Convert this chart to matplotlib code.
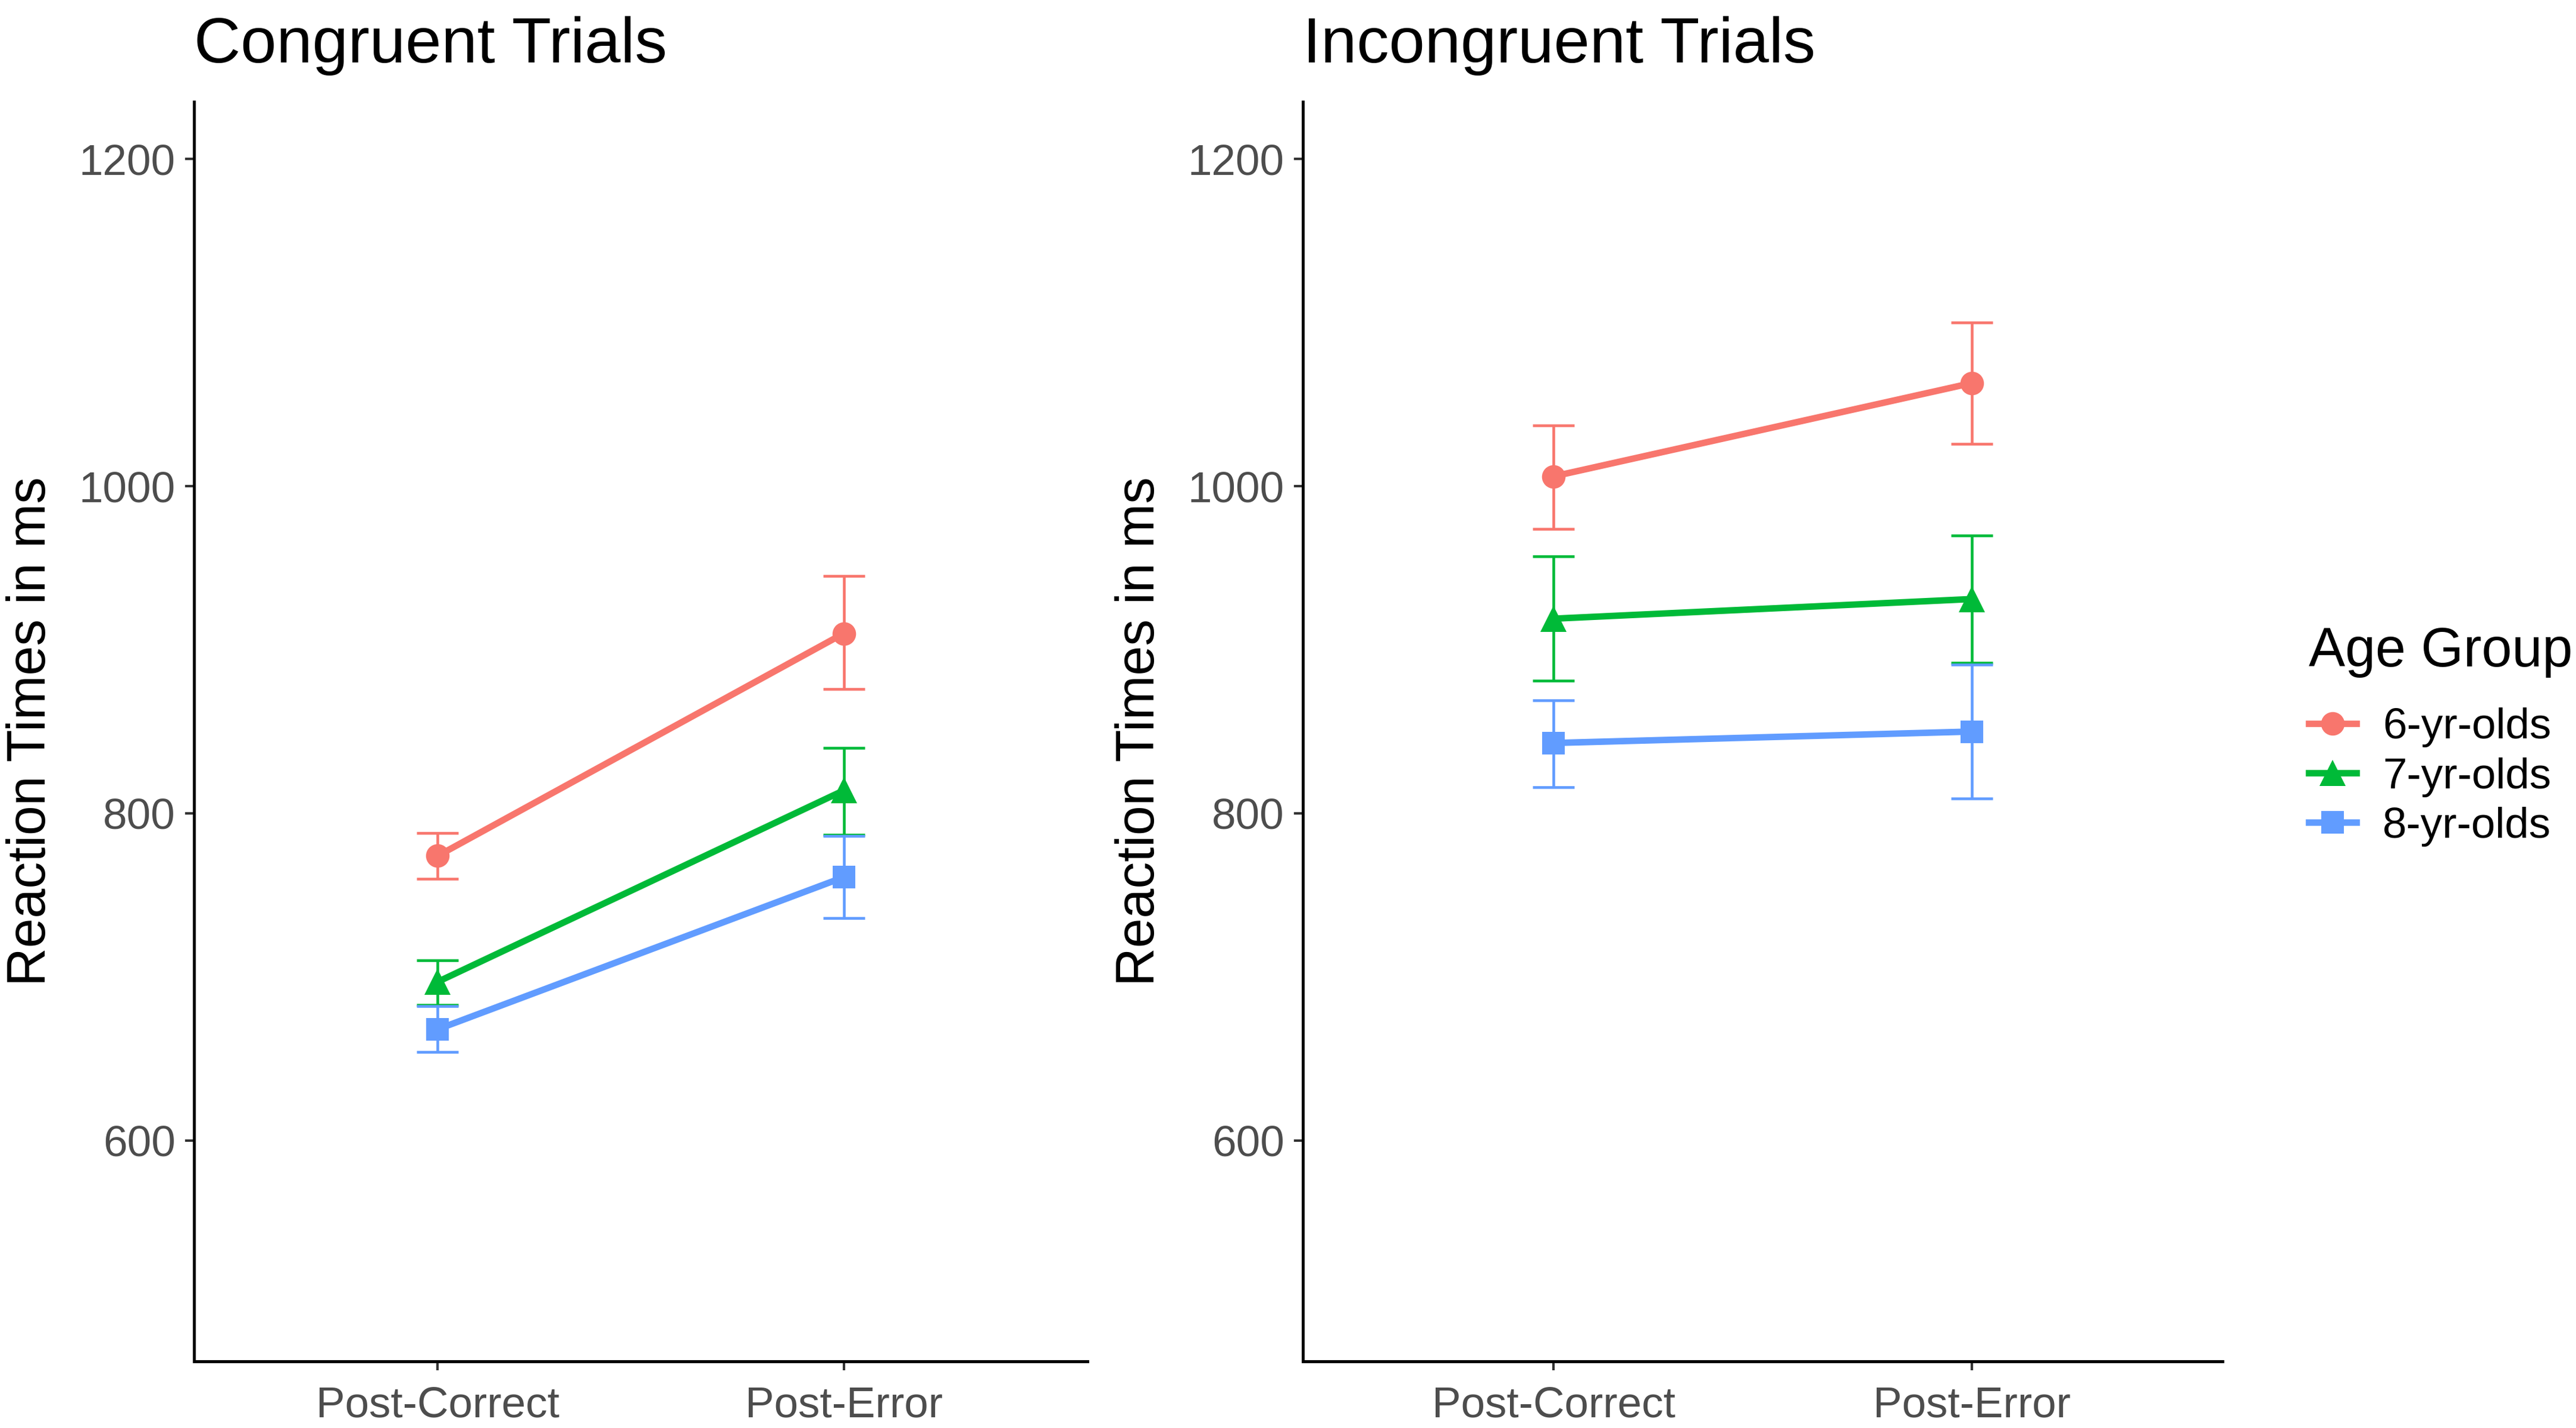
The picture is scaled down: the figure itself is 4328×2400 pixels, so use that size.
import matplotlib
matplotlib.use("Agg")
import matplotlib.pyplot as plt
from matplotlib.lines import Line2D
import numpy as np

plt.rcParams['font.family'] = ['Liberation Sans', 'DejaVu Sans']

conditions = ["Post-Correct", "Post-Error"]
groups = ["6-yr-olds", "7-yr-olds", "8-yr-olds"]
colors = ["#F8766D", "#00BA38", "#619CFF"]
markers = ["o", "^", "s"]

# Congruent trials: means and error bar limits
cong_mean = {"6-yr-olds": [774, 910], "7-yr-olds": [697, 814], "8-yr-olds": [668, 761]}
cong_low = {"6-yr-olds": [760, 876], "7-yr-olds": [683, 787], "8-yr-olds": [654, 736]}
cong_high = {"6-yr-olds": [788, 945], "7-yr-olds": [710, 840], "8-yr-olds": [682, 786]}

# Incongruent trials
incong_mean = {"6-yr-olds": [1006, 1063], "7-yr-olds": [919, 931], "8-yr-olds": [843, 850]}
incong_low = {"6-yr-olds": [974, 1026], "7-yr-olds": [881, 892], "8-yr-olds": [816, 809]}
incong_high = {"6-yr-olds": [1037, 1100], "7-yr-olds": [957, 970], "8-yr-olds": [869, 891]}

titles = ["Congruent Trials", "Incongruent Trials"]
yticks = [600, 800, 1000, 1200]

W, H = 4328, 2400
dpi = 300
fig = plt.figure(figsize=(W / dpi, H / dpi), dpi=dpi)

ax_rects = [
    (326 / W, 1 - 2288 / H, 1501 / W, (2288 - 171) / H),
    (2189 / W, 1 - 2288 / H, 1545 / W, (2288 - 171) / H),
]
panels = [(cong_mean, cong_low, cong_high), (incong_mean, incong_low, incong_high)]

msizes = {"o": 9.5, "^": 10.5, "s": 9}

x = np.arange(1, len(conditions) + 1)
for rect, (mean, low, high), title in zip(ax_rects, panels, titles):
    ax = fig.add_axes(rect)
    for g, c, m in zip(groups, colors, markers):
        mu = np.array(mean[g], dtype=float)
        lo = np.array(low[g], dtype=float)
        hi = np.array(high[g], dtype=float)
        ax.errorbar(x, mu, yerr=[mu - lo, hi - mu], fmt='none', ecolor=c,
                    elinewidth=1.1, capsize=8.5, capthick=1.1, zorder=2)
        ax.plot(x, mu, color=c, lw=2.6, marker=m, markersize=msizes[m],
                markeredgewidth=0, zorder=3)
    ax.set_xlim(0.4, 2.6)
    ax.set_ylim(465, 1235)
    ax.set_xticks(x)
    ax.set_xticklabels(conditions)
    ax.set_yticks(yticks)
    ax.tick_params(axis='both', labelsize=17.5, labelcolor='#4D4D4D', color='#333333',
                   length=3.5, width=1.0, pad=4)
    ax.tick_params(axis='x', pad=6.5)
    for s in ['top', 'right']:
        ax.spines[s].set_visible(False)
    for s in ['left', 'bottom']:
        ax.spines[s].set_linewidth(1.2)
        ax.spines[s].set_color('black')
    ax.set_ylabel("Reaction Times in ms", fontsize=21.5, color='black', labelpad=9)
    ax.text(0.0, 1.0 + (171 - 105) / (2288 - 171), title, transform=ax.transAxes,
            fontsize=26, ha='left', va='baseline', color='black')

handles = [Line2D([0], [0], color=c, lw=2.6, marker=m, markersize=msizes[m],
                  markeredgewidth=0) for c, m in zip(colors, markers)]
leg = fig.legend(handles, groups, title="Age Group", loc='center left',
                 bbox_to_anchor=(3850 / W, 1 - 1238 / H), frameon=False,
                 fontsize=17.5, title_fontsize=22, handlelength=1.1,
                 handletextpad=0.6, labelspacing=0.22, borderaxespad=0)
leg._legend_box.align = "left"
leg._legend_box.sep = 12

fig.savefig("out.png", dpi=dpi, facecolor='white')
